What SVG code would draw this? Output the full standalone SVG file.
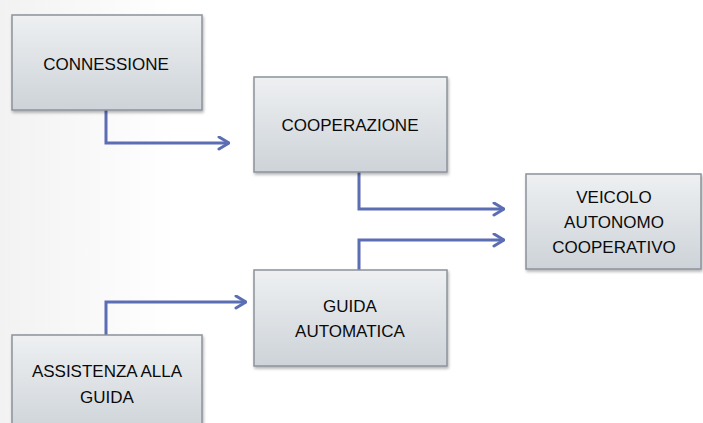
<svg xmlns="http://www.w3.org/2000/svg" width="703" height="423" viewBox="0 0 703 423">
<defs>
<linearGradient id="bg" x1="0" y1="0" x2="1" y2="0">
<stop offset="0" stop-color="#f2f2f2"/>
<stop offset="0.25" stop-color="#ffffff"/>
<stop offset="1" stop-color="#ffffff"/>
</linearGradient>
<linearGradient id="box" x1="0" y1="0" x2="0" y2="1">
<stop offset="0" stop-color="#eef0f2"/>
<stop offset="1" stop-color="#cdd3d8"/>
</linearGradient>
<filter id="sh" x="-10%" y="-10%" width="120%" height="130%">
<feGaussianBlur in="SourceAlpha" stdDeviation="1.5"/>
<feOffset dx="1" dy="2" result="o"/>
<feComponentTransfer><feFuncA type="linear" slope="0.3"/></feComponentTransfer>
<feMerge><feMergeNode/><feMergeNode in="SourceGraphic"/></feMerge>
</filter>
<marker id="arr" viewBox="0 0 13 15" refX="12" refY="7.5" markerWidth="13" markerHeight="15" markerUnits="userSpaceOnUse" orient="auto">
<path d="M2,1.5 L12,7.5 L2,13.5" fill="none" stroke="#5b6db3" stroke-width="3" stroke-linecap="round" stroke-linejoin="round"/>
</marker>
</defs>
<style>
.box{fill:url(#box);stroke:#8c939b;stroke-width:1.5;filter:url(#sh)}
.t{font-family:"Liberation Sans",Arial,sans-serif;font-size:17px;fill:#0a0a0a;text-anchor:middle}
.c{fill:none;stroke:#5b6db3;stroke-width:3;marker-end:url(#arr)}
</style>
<rect width="703" height="423" fill="url(#bg)"/>
<g id="connectors">
<path class="c" d="M106,110 V143 H229"/>
<path class="c" d="M359,172 V209 H504"/>
<path class="c" d="M359,270 V240 H504"/>
<path class="c" d="M106,335 V302 H246"/>
</g>
<g id="connessione">
<rect class="box" x="12" y="15" width="190" height="95"/>
<text class="t" x="106" y="70">CONNESSIONE</text>
</g>
<g id="cooperazione">
<rect class="box" x="254" y="77" width="193" height="95"/>
<text class="t" x="350" y="131">COOPERAZIONE</text>
</g>
<g id="veicolo">
<rect class="box" x="526" y="174" width="175" height="95"/>
<text class="t" x="614" y="203">VEICOLO</text>
<text class="t" x="614" y="228">AUTONOMO</text>
<text class="t" x="614" y="253">COOPERATIVO</text>
</g>
<g id="guida-automatica">
<rect class="box" x="254" y="270" width="193" height="96"/>
<text class="t" x="350" y="312">GUIDA</text>
<text class="t" x="350" y="337">AUTOMATICA</text>
</g>
<g id="assistenza">
<rect class="box" x="12" y="335" width="190" height="100"/>
<text class="t" x="107" y="377">ASSISTENZA ALLA</text>
<text class="t" x="107" y="403">GUIDA</text>
</g>
</svg>
